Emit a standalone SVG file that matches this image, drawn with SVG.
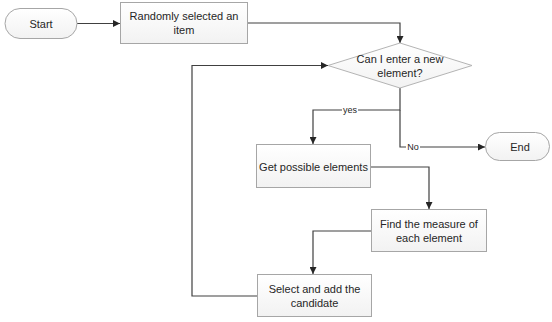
<svg xmlns="http://www.w3.org/2000/svg" width="552" height="322" viewBox="0 0 552 322">
  <style>
    .box { fill: url(#fillGrad); stroke: #a6a6a6; stroke-width: 1; }
    .dia { fill: url(#fillGrad); stroke: #b4b4b4; stroke-width: 1; }
    .txt { font-family: "Liberation Sans", Arial, sans-serif; font-size: 11px; fill: #262626; text-anchor: middle; dominant-baseline: central; }
    .lbl { font-family: "Liberation Sans", Arial, sans-serif; font-size: 9px; fill: #262626; text-anchor: middle; dominant-baseline: central; }
    .conn { fill: none; stroke: #404040; stroke-width: 1.2; }
  </style>
  <defs>
    <linearGradient id="fillGrad" x1="0" y1="0" x2="0" y2="1">
      <stop offset="0" stop-color="#ffffff"/>
      <stop offset="1" stop-color="#f2f2f2"/>
    </linearGradient>
    <marker id="arrow" viewBox="0 0 10 10" refX="10" refY="5" markerWidth="7" markerHeight="7" markerUnits="userSpaceOnUse" orient="auto">
      <path d="M0,0 L10,5 L0,10 z" fill="#262626"/>
    </marker>
  </defs>
  <rect width="552" height="322" fill="#ffffff"/>

  <g id="connectors">
    <path class="conn" d="M77,23.5 H120" marker-end="url(#arrow)"/>
    <path class="conn" d="M248,23 H400 V43" marker-end="url(#arrow)"/>
    <path class="conn" d="M400,88 V110 H313 V144" marker-end="url(#arrow)"/>
    <path class="conn" d="M400,110 V147 H485" marker-end="url(#arrow)"/>
    <path class="conn" d="M371,167 H429 V209" marker-end="url(#arrow)"/>
    <path class="conn" d="M371,231 H313 V274" marker-end="url(#arrow)"/>
    <path class="conn" d="M257,296 H192 V65.5 H328" marker-end="url(#arrow)"/>
    <rect x="342" y="105" width="16" height="10" fill="#ffffff"/>
    <text class="lbl" x="350" y="110">yes</text>
    <rect x="406" y="142" width="14" height="10" fill="#ffffff"/>
    <text class="lbl" x="413" y="147">No</text>
  </g>

  <g id="start">
    <rect class="box" x="5" y="8.5" width="72" height="30" rx="15" ry="15"/>
    <text class="txt" x="41" y="23.5">Start</text>
  </g>

  <g id="random-item">
    <rect class="box" x="120.5" y="2.5" width="127" height="41"/>
    <text class="txt" x="184" y="16">Randomly selected an</text>
    <text class="txt" x="184" y="30">item</text>
  </g>

  <g id="can-enter">
    <polygon class="dia" points="400,43 472,65.5 400,88 328,65.5"/>
    <text class="txt" x="400" y="59">Can I enter a new</text>
    <text class="txt" x="400" y="73">element?</text>
  </g>

  <g id="end">
    <rect class="box" x="485.5" y="132.5" width="64" height="28" rx="14" ry="14"/>
    <text class="txt" x="520" y="146.5">End</text>
  </g>

  <g id="get-elements">
    <rect class="box" x="256.5" y="144.5" width="114" height="43"/>
    <text class="txt" x="313.5" y="167">Get possible elements</text>
  </g>

  <g id="find-measure">
    <rect class="box" x="371.5" y="209.5" width="115" height="42"/>
    <text class="txt" x="429" y="223.5">Find the measure of</text>
    <text class="txt" x="429" y="238">each element</text>
  </g>

  <g id="select-candidate">
    <rect class="box" x="257.5" y="274.5" width="114" height="42"/>
    <text class="txt" x="314.5" y="289">Select and add the</text>
    <text class="txt" x="314.5" y="303">candidate</text>
  </g>
</svg>
